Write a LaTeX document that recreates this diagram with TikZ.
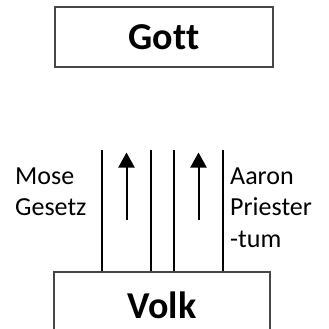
\documentclass[tikz,border=0pt]{standalone}
\usepackage{fontspec}
\setmainfont[Ligatures=NoCommon]{Carlito}
\usetikzlibrary{arrows.meta}
\tikzset{
  box/.style={draw=black!72, line width=1.3pt, fill=white, inner sep=0pt},
  title/.style={font=\fontsize{38}{44}\selectfont\bfseries},
  side/.style={font=\fontsize{26}{31.5}\selectfont, align=left, inner sep=0pt},
  rail/.style={line width=2pt, black},
  flow/.style={line width=2pt, black, -{Triangle[length=15pt, width=16pt]}}
}
\begin{document}
\begin{tikzpicture}[x=1pt, y=-1pt]
  \useasboundingbox (0,0) rectangle (329,329);
  \clip (0,0) rectangle (329,329);
  % upper and lower boxes
  \node[box, title, minimum width=218pt, minimum height=60pt] (gott) at (164,37) {Gott};
  \node[box, title, minimum width=216pt, minimum height=66pt] (volk) at (162,305) {Volk};
  % the four rails rising from the lower box
  \coordinate (r1) at (102,150);
  \coordinate (r2) at (151,150);
  \coordinate (r3) at (174,150);
  \coordinate (r4) at (223,150);
  \foreach \r in {r1,r2,r3,r4}
    \draw[rail] (\r |- volk.north) -- (\r);
  % upward arrows between the rails
  \coordinate (a1s) at (126.5,220);
  \coordinate (a1e) at (126.5,152.5);
  \coordinate (a2s) at (198.5,220);
  \coordinate (a2e) at (198.5,152.5);
  \draw[flow] (a1s) -- (a1e);
  \draw[flow] (a2s) -- (a2e);
  % side labels
  \node[side, anchor=north west] (mose) at (15,167.5) {Mose\\Gesetz};
  \node[side, anchor=north west] (aaron) at (230,167.5) {Aaron\\Priester\\-tum};
\end{tikzpicture}
\end{document}
